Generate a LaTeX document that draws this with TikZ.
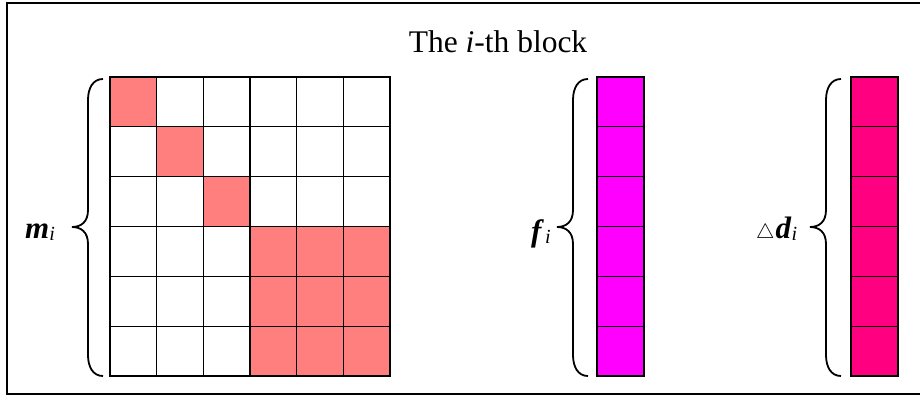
\documentclass[tikz,border=0pt]{standalone}
\usepackage{fontspec}
\setmainfont{Liberation Serif}
\definecolor{salmon}{HTML}{FF7F7F}
\definecolor{magv}{HTML}{FF00FF}
\definecolor{pinkv}{HTML}{FF0080}
\tikzset{
  cellbox/.style={draw=black, line width=1.3pt},
  bracepath/.style={draw=black, line width=1.8pt},
  lbl/.style={inner sep=0pt, anchor=base west, font=\fontsize{31}{34}\selectfont},
}
\newcommand{\subi}{\raisebox{-2pt}{\fontsize{20}{22}\selectfont\itshape i}}
\newcommand{\tri}{{\fontsize{22}{24}\selectfont$\triangle$}\kern1pt}
\begin{document}
\begin{tikzpicture}[x=1pt,y=-1pt]
\useasboundingbox (0,0) rectangle (920,399);
\draw[line width=2pt] (7,3) rectangle (923,394);
\node[inner sep=0pt, font=\fontsize{31.5}{34}\selectfont] (title) at (498,42) {The \textit{i}-th block};
% matrix
\foreach \r in {0,...,5}{
  \foreach \c in {0,...,5}{
    \pgfmathsetmacro{\xa}{110+\c*46.67}
    \pgfmathsetmacro{\ya}{77+\r*49.83}
    \pgfmathsetmacro{\fillit}{(\r==\c) || (\r>2 && \c>2) ? 1 : 0}
    \ifnum\fillit=1
      \draw[cellbox, fill=salmon] (\xa,\ya) rectangle ++(46.67,49.83);
    \else
      \draw[cellbox] (\xa,\ya) rectangle ++(46.67,49.83);
    \fi
  }
}
% f vector
\foreach \r in {0,...,5}{
  \pgfmathsetmacro{\ya}{77+\r*49.83}
  \draw[cellbox, fill=magv] (597,\ya) rectangle ++(47,49.83);
}
% d vector
\foreach \r in {0,...,5}{
  \pgfmathsetmacro{\ya}{77+\r*49.83}
  \draw[cellbox, fill=pinkv] (851,\ya) rectangle ++(47,49.83);
}
% braces
\foreach \bx/\name in {88/bm, 573/bf, 826/bd}{
  \draw[bracepath] (\bx+15,79) .. controls (\bx+5,79) and (\bx,88) .. (\bx,100)
    -- (\bx,210) .. controls (\bx,222) and (\bx-7,227) .. (\bx-16,227)
    .. controls (\bx-7,227) and (\bx,232) .. (\bx,244)
    -- (\bx,355) .. controls (\bx,367) and (\bx+5,376) .. (\bx+15,376);
  \coordinate (\name) at (\bx-16,227);
}
\node[lbl] (mlabel) at (25,238) {\textbf{\textit{m}}\subi};
\node[lbl] (flabel) at (531,241) {\textbf{\textit{f}}\kern1pt\subi};
\node[lbl] (dlabel) at (756,238) {\tri\textbf{\textit{d}}\subi};
\end{tikzpicture}
\end{document}
